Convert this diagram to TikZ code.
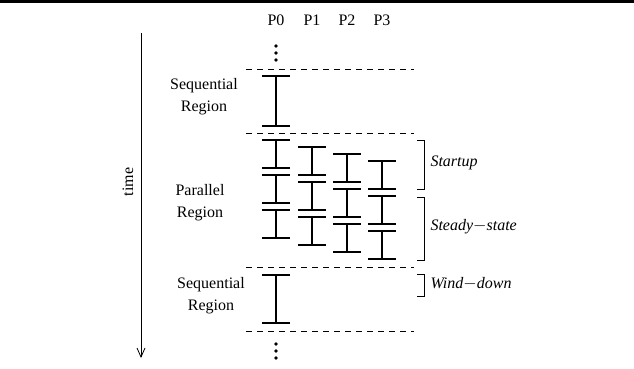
\documentclass[tikz,border=0pt]{standalone}
\usepackage{fontspec}
\setmainfont{Liberation Serif}
\usetikzlibrary{arrows.meta}

\tikzset{
    ibar/.style={line width=2.4pt},
    icap/.style={line width=1.6pt},
    sep/.style={line width=0.8pt, dash pattern=on 6pt off 5pt},
    brace/.style={line width=0.9pt},
    region/.style={align=center, font=\fontsize{16}{22}\selectfont},
    phase/.style={right, font=\fontsize{16}{19}\selectfont\itshape}
}

\begin{document}
\begin{tikzpicture}[x=1pt, y=-1pt, font=\fontsize{16}{19}\selectfont]
    \useasboundingbox (0,0) rectangle (634,368);
    \draw [line width=2.5pt] (0,1.5) -- (634,1.5);
    % processors
    \foreach \p/\x in {0/276, 1/312, 2/347, 3/382}
        \node (p\p) at (\x,20) {P\p};
    % time axis
    \coordinate (t0) at (141,33);
    \coordinate (t1) at (141,358);
    \draw [-{Straight Barb[length=9pt, width=8pt]}, line width=0.8pt] (t0) -- (t1);
    \node [rotate=90] (time) at (128,182) {time};
    % region borders
    \foreach \y in {69, 133, 267, 331}
        \draw [sep] (246,\y) -- (414,\y);
    % dots
    \foreach \y in {46, 53, 60, 344, 351, 358}
        \fill (276,\y) circle (1.8);
    % sequential parts
    \foreach \a/\b in {76/126, 275/323} {
        \draw [ibar] (276,\a) -- (276,\b);
        \draw [icap] (262,\a) -- (290,\a) (262,\b) -- (290,\b);
    }
    % parallel part, staggered
    \foreach \p/\x in {0/276, 1/312, 2/347, 3/382}
        \foreach \k in {0,1,2} {
            \pgfmathsetmacro\a{140+7*\p+35*\k}
            \draw [ibar] (\x,\a) -- (\x,\a+28);
            \draw [icap] (\x-14,\a) -- (\x+14,\a) (\x-14,\a+28) -- (\x+14,\a+28);
        }
    \node [region] (seqA) at (204,97) {Sequential\\Region};
    \node [region] (par) at (200,203) {Parallel\\Region};
    \node [region] (seqB) at (211,296) {Sequential\\Region};
    % phases
    \draw [brace] (417,140) -- (424,140) -- (424,189) -- (417,189);
    \draw [brace] (417,197) -- (424,197) -- (424,260) -- (417,260);
    \draw [brace] (417,274) -- (424,274) -- (424,296) -- (417,296);
    \node [phase] (startup) at (427,163) {Startup};
    \node [phase] (steady) at (427,227) {Steady$-$state};
    \node [phase] (wind) at (427,284) {Wind$-$down};
\end{tikzpicture}
\end{document}
